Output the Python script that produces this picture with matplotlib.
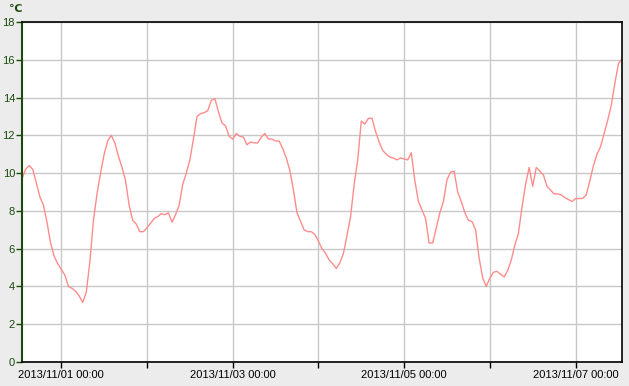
import numpy as np
import pandas as pd
import matplotlib
matplotlib.use('Agg')
import matplotlib.pyplot as plt
import matplotlib.dates as mdates

# hourly temperature readings, starting 2013/10/31 13:00
start_time = '2013-10-31 13:00'
temps = [9.7, 10.2, 10.4, 10.2, 9.5, 8.75, 8.3, 7.4, 6.3, 5.6,
         5.2, 4.9, 4.6, 4.0, 3.9, 3.75, 3.5, 3.15, 3.7, 5.3,
         7.5, 8.9, 10.0, 11.0, 11.7, 12.0, 11.6, 10.9, 10.3, 9.6,
         8.3, 7.5, 7.3, 6.9, 6.9, 7.1, 7.35, 7.6, 7.7, 7.85,
         7.8, 7.9, 7.4, 7.8, 8.3, 9.4, 10.0, 10.7, 11.8, 13.0,
         13.15, 13.2, 13.3, 13.85, 13.95, 13.25, 12.65, 12.5, 11.95, 11.8,
         12.1, 11.95, 11.9, 11.5, 11.65, 11.6, 11.6, 11.9, 12.1, 11.8,
         11.8, 11.7, 11.7, 11.3, 10.8, 10.15, 9.1, 7.9, 7.45, 7.0,
         6.9, 6.9, 6.75, 6.4, 6.0, 5.75, 5.4, 5.2, 4.95, 5.25,
         5.75, 6.7, 7.7, 9.4, 10.7, 12.75, 12.6, 12.9, 12.9, 12.2,
         11.65, 11.2, 11.0, 10.85, 10.8, 10.7, 10.8, 10.75, 10.7, 11.08,
         9.6, 8.5, 8.05, 7.6, 6.3, 6.3, 7.1, 7.9, 8.5, 9.65,
         10.05, 10.1, 9.0, 8.5, 7.9, 7.5, 7.44, 7.0, 5.5, 4.45,
         4.0, 4.45, 4.75, 4.8, 4.65, 4.5, 4.85, 5.4, 6.2, 6.8,
         8.2, 9.4, 10.3, 9.3, 10.3, 10.1, 9.9, 9.3, 9.1, 8.9,
         8.9, 8.85, 8.7, 8.6, 8.5, 8.65, 8.65, 8.66, 8.85, 9.6,
         10.4, 11.0, 11.4, 12.1, 12.8, 13.6, 14.75, 15.8, 16.05]
y_ticks = [0, 2, 4, 6, 8, 10, 12, 14, 16, 18]
unit_label = '℃'

times = pd.date_range(start_time, periods=len(temps), freq='h')

plt.rcParams['font.family'] = ['Liberation Sans', 'DejaVu Sans']
green = '#1a4a0a'

fig = plt.figure(figsize=(6.29, 3.86), dpi=100, facecolor='#ececec')
ax = fig.add_axes([22/629, 1 - 362/386, 600/629, 340/386])
ax.set_facecolor('white')

ax.plot(times, temps, color='#ff8c8c', lw=1)

ax.set_xlim(times[0], times[-1])
ax.set_ylim(0, 18)
ax.set_yticks(y_ticks)

ax.xaxis.set_major_locator(mdates.DayLocator(interval=2))
ax.xaxis.set_minor_locator(mdates.DayLocator())
ax.xaxis.set_major_formatter(mdates.DateFormatter('%Y/%m/%d %H:%M'))

ax.grid(True, which='both', axis='x', color='#c8c8c8', lw=1)
ax.grid(True, which='major', axis='y', color='#c8c8c8', lw=1)
ax.set_axisbelow(True)

ax.tick_params(axis='x', which='both', length=4, width=1, color='black',
               labelsize=8, pad=2)
ax.tick_params(axis='y', length=4, width=1, color=green, labelcolor=green,
               labelsize=8, pad=1)

for side in ['top', 'right', 'bottom']:
    ax.spines[side].set_color('black')
    ax.spines[side].set_linewidth(1.2)
ax.spines['left'].set_color(green)
ax.spines['left'].set_linewidth(1.5)

fig.text(9/629, 1 - 9/386, unit_label, color=green, fontsize=8,
         fontweight='bold', va='center', ha='left',
         family=['DejaVu Sans'])

fig.savefig('out.png', dpi=100, facecolor=fig.get_facecolor())
